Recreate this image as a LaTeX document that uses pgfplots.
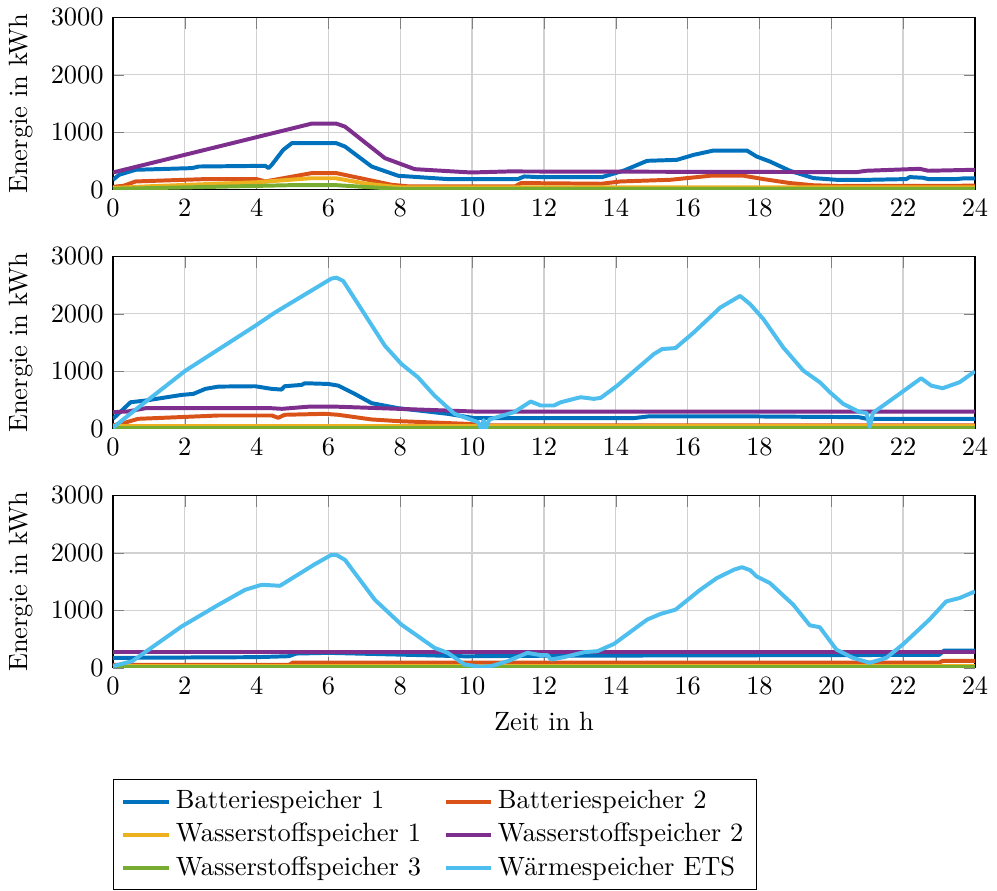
\documentclass[border=0pt]{standalone}
\usepackage{pgfplots}
\pgfplotsset{compat=1.18}
\definecolor{mblue}{rgb}{0,0.447,0.741}
\definecolor{morange}{rgb}{0.850,0.325,0.098}
\definecolor{myellow}{rgb}{0.929,0.694,0.125}
\definecolor{mpurple}{rgb}{0.494,0.184,0.556}
\definecolor{mgreen}{rgb}{0.466,0.674,0.188}
\definecolor{mcyan}{rgb}{0.301,0.745,0.933}
\pgfplotsset{
  panel/.style={
    scale only axis, width=326pt, height=65.2pt,
    xmin=0, xmax=24, ymin=0, ymax=3000,
    xtick={0,2,...,24}, ytick={0,1000,2000,3000},
    xmajorgrids, ymajorgrids,
    grid style={gray!35, line width=0.5pt},
    ylabel={Energie in kWh},
    scaled y ticks=false,
    yticklabel style={/pgf/number format/1000 sep={}},
    every axis plot/.append style={line width=1.5pt, line join=round},
  }
}
\begin{document}
\begin{tikzpicture}
\begin{axis}[panel, at={(0,0)}]
\addplot[mblue] coordinates {(0,173)(0.17,260)(0.63,347)(2.2,376)(2.39,404)(4.24,416)(4.33,376)(4.42,433)(4.74,694)(4.98,810)(6.22,810)(6.46,751)(7.2,404)(7.94,243)(9.32,185)(11.27,185)(11.45,231)(11.82,220)(13.62,220)(14.23,335)(14.87,503)(15.7,520)(16.17,607)(16.72,682)(17.65,682)(17.92,578)(18.29,491)(18.85,329)(19.5,203)(20.14,173)(21.07,173)(22.09,185)(22.18,220)(22.55,208)(22.7,185)(23.47,185)(23.66,196)(24,196)};
\addplot[morange] coordinates {(0,50)(0.3,70)(0.63,144)(2.57,185)(4.0,185)(4.24,144)(5.53,289)(6.22,289)(7.01,185)(7.75,87)(8.2,60)(11.2,60)(11.36,116)(13.6,104)(14.13,144)(15.52,173)(15.98,202)(16.63,243)(17.56,243)(18.11,185)(18.85,116)(19.5,78)(20.2,65)(24,70)};
\addplot[myellow] coordinates {(0,30)(1,60)(4,130)(5.5,200)(6.2,200)(7,110)(8,40)(24,40)};
\addplot[mpurple] coordinates {(0,300)(5.53,1150)(6.22,1150)(6.46,1098)(7.57,550)(8.4,358)(9.97,300)(11.0,318)(20.7,306)(20.98,330)(22.46,364)(22.7,330)(24,347)};
\addplot[mgreen] coordinates {(0,15)(2,40)(5,80)(6.2,80)(7.5,30)(8,15)(24,15)};
\end{axis}
\begin{axis}[panel, at={(0,-90.4pt)}]
\addplot[mblue] coordinates {(0,173)(0.49,462)(0.91,491)(1.92,590)(2.24,607)(2.57,694)(2.94,734)(3.96,740)(4.42,694)(4.69,682)(4.78,740)(5.25,763)(5.34,792)(5.99,780)(6.27,751)(6.73,607)(7.2,446)(7.94,358)(9.32,260)(10.06,185)(14.5,185)(14.9,214)(17.9,214)(20.76,202)(21,173)(24,173)};
\addplot[morange] coordinates {(0,60)(0.3,100)(0.7,173)(1.84,202)(2.94,231)(4.42,231)(4.6,191)(4.78,243)(5.9,260)(6.27,243)(7.2,162)(7.94,133)(9.78,87)(10.5,60)(24,60)};
\addplot[myellow] coordinates {(0,40)(24,40)};
\addplot[mpurple] coordinates {(0,289)(0.4,300)(0.91,358)(4.4,358)(4.7,347)(5.5,387)(6.1,387)(7.94,347)(10.06,300)(24,300)};
\addplot[mgreen] coordinates {(0,15)(24,15)};
\addplot[mcyan] coordinates {(0,20)(0.54,289)(2.02,1012)(3.96,1791)(4.51,2023)(6.08,2613)(6.22,2630)(6.41,2572)(7.57,1445)(8.03,1127)(8.49,896)(8.95,578)(9.51,260)(10.16,116)(10.25,0)(10.32,150)(10.38,0)(10.48,162)(11.17,289)(11.63,474)(11.91,405)(12.28,405)(12.47,462)(13.02,549)(13.39,520)(13.58,538)(14.04,751)(15.06,1300)(15.29,1387)(15.66,1404)(16.17,1676)(16.91,2110)(17.46,2312)(17.74,2168)(18.11,1907)(18.66,1416)(19.22,1012)(19.68,809)(19.96,636)(20.33,433)(20.79,289)(20.98,277)(21.07,29)(21.16,277)(21.9,607)(22.5,879)(22.78,751)(23.1,705)(23.57,809)(24,1000)};
\end{axis}
\begin{axis}[panel, at={(0,-180.8pt)}, xlabel={Zeit in h},
  legend columns=2,
  legend cell align=left,
  legend style={at={(0,-0.647)}, anchor=north west, draw=black, fill=white,
    /tikz/every even column/.append style={column sep=6.5pt}}]
\addplot[mblue] coordinates {(0,173)(4.0,185)(4.9,202)(5.1,248)(6,260)(8.6,220)(9.8,200)(12,210)(23.0,225)(23.14,300)(24,300)};
\addlegendentry{Batteriespeicher 1}
\addplot[morange] coordinates {(0,50)(4.9,50)(5.0,90)(23,90)(23.1,120)(24,120)};
\addlegendentry{Batteriespeicher 2}
\addplot[myellow] coordinates {(0,40)(24,40)};
\addlegendentry{Wasserstoffspeicher 1}
\addplot[mpurple] coordinates {(0,280)(24,280)};
\addlegendentry{Wasserstoffspeicher 2}
\addplot[mgreen] coordinates {(0,15)(24,15)};
\addlegendentry{Wasserstoffspeicher 3}
\addplot[mcyan] coordinates {(0,29)(0.54,116)(1.92,723)(2.94,1098)(3.68,1358)(4.14,1445)(4.65,1427)(5.62,1803)(6.08,1965)(6.22,1965)(6.46,1878)(7.29,1184)(8.03,751)(8.49,550)(8.95,347)(9.32,260)(9.79,57)(10.2,20)(10.53,29)(10.99,116)(11.54,260)(11.91,220)(12.1,220)(12.19,144)(12.56,185)(13.12,272)(13.49,289)(13.95,416)(14.87,838)(15.24,936)(15.66,1011)(16.35,1358)(16.81,1560)(17.28,1705)(17.51,1751)(17.74,1699)(17.92,1590)(18.29,1474)(18.94,1098)(19.4,740)(19.68,705)(20.14,318)(20.6,173)(21.07,87)(21.53,173)(21.99,405)(22.73,838)(23.2,1156)(23.57,1214)(24,1329)};
\addlegendentry{Wärmespeicher ETS}
\end{axis}
\end{tikzpicture}
\end{document}
